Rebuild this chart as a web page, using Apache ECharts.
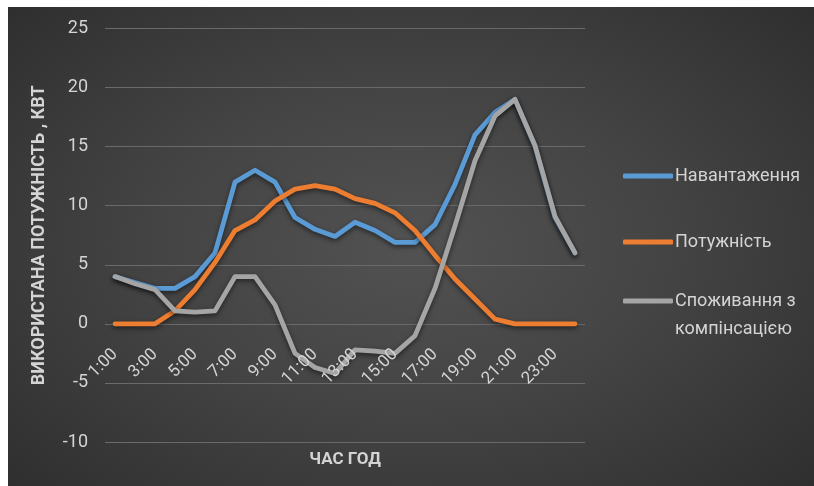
<!DOCTYPE html>
<html>
<head>
<meta charset="utf-8">
<script src="https://cdn.jsdelivr.net/npm/echarts@6/dist/echarts.min.js"></script>
<style>
  html, body { margin: 0; padding: 0; background: #ffffff; width: 814px; height: 486px; overflow: hidden; }
  #bg { position: absolute; left: 8px; top: 7px; width: 806px; height: 479px;
        background: radial-gradient(ellipse 70% 75% at 50% 50%, #525252 0%, #444444 45%, #2e2e2e 100%); }
  #chart { position: absolute; left: 0; top: 0; width: 814px; height: 486px; }
</style>
</head>
<body>
<div id="bg"></div>
<div id="chart"></div>
<script>
const hours = ['1:00','2:00','3:00','4:00','5:00','6:00','7:00','8:00','9:00','10:00','11:00','12:00',
               '13:00','14:00','15:00','16:00','17:00','18:00','19:00','20:00','21:00','22:00','23:00','24:00'];
const loadValues = [4, 3.5, 3, 3, 4, 6, 12, 13, 12, 9, 8, 7.4, 8.6, 7.9, 6.9, 6.9, 8.4, 11.8, 16, 17.9, 19, 15, 9, 6];
const powerValues = [0, 0, 0, 1.1, 2.9, 5.2, 7.9, 8.8, 10.4, 11.4, 11.7, 11.4, 10.6, 10.2, 9.4, 7.9, 5.8, 3.8, 2.1, 0.4, 0, 0, 0, 0];
const netValues = [4, 3.4, 2.9, 1.1, 1.0, 1.1, 4, 4, 1.6, -2.5, -3.7, -4.2, -2.2, -2.3, -2.5, -1, 3, 8.3, 13.8, 17.6, 19, 15.1, 9.1, 6];
const seriesNames = ['Навантаження', 'Потужність', 'Споживання з компінсацією'];
const yTicks = { min: -10, max: 25, interval: 5 };

const colors = ['#5b9bd5', '#ed7d31', '#a5a5a5'];
const txt = '#d4d4d4';
const font = 'Roboto, "Noto Sans", sans-serif';

const chart = echarts.init(document.getElementById('chart'));
function mkSeries(name, data, color) {
  return {
    name: name, type: 'line', data: data, showSymbol: false, symbol: 'none',
    lineStyle: { color: color, width: 4.8, cap: 'round', join: 'round',
                 shadowColor: 'rgba(0,0,0,0.55)', shadowBlur: 5, shadowOffsetY: 2 },
    itemStyle: { color: color },
    emphasis: { disabled: true }, animation: false
  };
}
chart.setOption({
  backgroundColor: 'transparent',
  animation: false,
  textStyle: { fontFamily: font },
  grid: { left: 105, right: 229, top: 28.5, bottom: 44, containLabel: false, outerBoundsMode: 'none' },
  legend: [{
    orient: 'vertical', left: 623, top: 167, itemGap: 48, padding: 0,
    data: [seriesNames[0], seriesNames[1]],
    icon: 'roundRect', itemWidth: 50, itemHeight: 5,
    textStyle: { color: txt, fontSize: 18, fontFamily: font, padding: [0, 0, 0, -3] }
  }, {
    orient: 'vertical', left: 623, top: 259, padding: 0,
    data: [seriesNames[2]],
    icon: 'roundRect', itemWidth: 50, itemHeight: 5,
    formatter: function () { return ' \nСпоживання з\nкомпінсацією'; },
    textStyle: { color: txt, fontSize: 18, lineHeight: 28, fontFamily: font, padding: [0, 0, 0, -3] }
  }],
  xAxis: {
    type: 'category', data: hours, boundaryGap: true, z: 5,
    axisLine: { show: false, onZero: false },
    axisTick: { show: false },
    axisLabel: { interval: 1, rotate: 45, color: txt, fontSize: 17, margin: 28, fontFamily: font },
    name: 'ЧАС ГОД', nameLocation: 'middle', nameGap: 127,
    nameTextStyle: { color: txt, fontSize: 17, fontWeight: 'bold', fontFamily: font }
  },
  yAxis: {
    type: 'value', min: yTicks.min, max: yTicks.max, interval: yTicks.interval,
    axisLine: { show: false }, axisTick: { show: false },
    axisLabel: { color: txt, fontSize: 18, margin: 17, fontFamily: font },
    splitLine: { lineStyle: { color: '#6a6a6a', width: 1 } },
    name: 'ВИКОРИСТАНА ПОТУЖНІСТЬ , КВТ', nameLocation: 'middle', nameGap: 57,
    nameTextStyle: { color: txt, fontSize: 18, fontWeight: 'bold', fontFamily: font }
  },
  series: [
    mkSeries(seriesNames[0], loadValues, colors[0]),
    mkSeries(seriesNames[1], powerValues, colors[1]),
    mkSeries(seriesNames[2], netValues, colors[2])
  ]
});
// place the category labels at the zero line, as in the reference
const zeroY = chart.convertToPixel({ yAxisIndex: 0 }, 0);
const bottomY = chart.convertToPixel({ yAxisIndex: 0 }, yTicks.min);
chart.setOption({ xAxis: { offset: -(bottomY - zeroY) } });
</script>
</body>
</html>
